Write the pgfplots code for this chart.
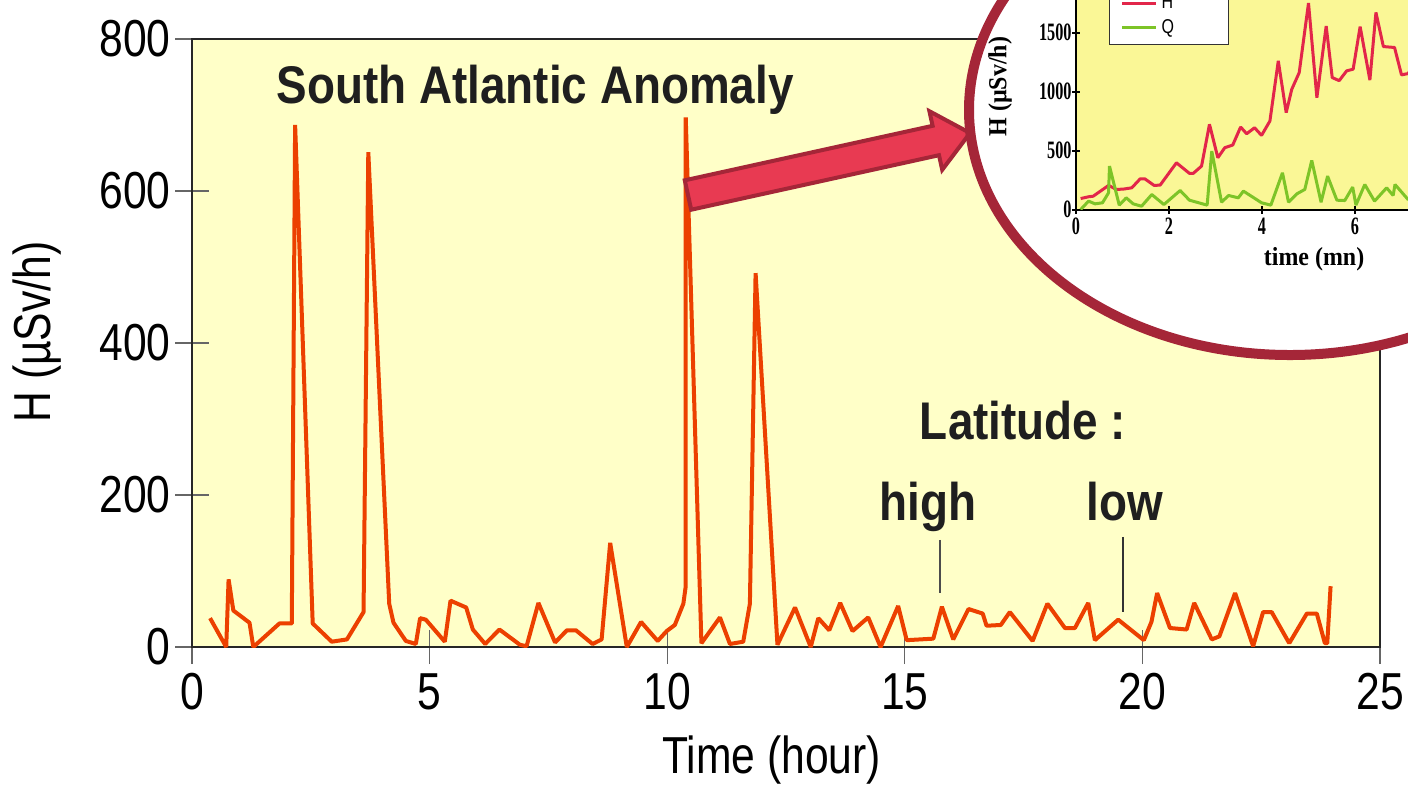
\documentclass[border=0pt]{standalone}
\usepackage{pgfplots}
\pgfplotsset{compat=1.18}
\usepackage{fontspec}
\setmainfont{Liberation Sans}
\newfontfamily\mainf[FakeStretch=0.82]{Liberation Sans}
\newfontfamily\boldf[FakeStretch=0.865]{Liberation Sans}
\newfontfamily\insetf[FakeStretch=0.65]{Liberation Serif}
\newfontfamily\insetlab[FakeStretch=0.92]{Liberation Serif}
\newfontfamily\legf[FakeStretch=0.8]{Liberation Sans}

\definecolor{mainbg}{RGB}{255,255,200}
\definecolor{insetbg}{RGB}{250,247,150}
\definecolor{lineor}{RGB}{236,64,0}
\definecolor{ring}{RGB}{165,38,56}
\definecolor{arrowfill}{RGB}{232,58,82}
\definecolor{hred}{RGB}{226,38,74}
\definecolor{qgreen}{RGB}{125,196,40}

\pgfplotstableread{
x y
0.38 38
0.72 0
0.77 89
0.87 48
1.21 32
1.29 0
1.84 31
2.10 31
2.17 687
2.54 31
2.94 7
3.26 10
3.61 46
3.71 651
4.15 57
4.24 32
4.50 8
4.71 4
4.80 38
4.92 36
5.32 7
5.44 61
5.77 52
5.91 23
6.17 4
6.47 23
6.90 3
7.04 1
7.29 58
7.64 6
7.89 22
8.08 22
8.43 4
8.62 10
8.80 137
9.15 0
9.45 33
9.80 8
9.99 21
10.16 29
10.34 57
10.39 80
10.39 697
10.72 5
11.11 39
11.32 4
11.60 7
11.74 57
11.86 492
12.32 3
12.69 52
13.02 0
13.18 38
13.41 22
13.64 58
13.90 21
14.23 39
14.49 0
14.86 54
15.04 9
15.60 11
15.78 53
16.02 10
16.34 50
16.64 44
16.72 28
17.02 29
17.21 46
17.69 8
18.00 57
18.37 25
18.58 25
18.86 58
19.00 9
19.49 36
20.03 9
20.19 33
20.31 71
20.58 25
20.93 23
21.09 58
21.46 10
21.62 14
21.95 71
22.33 1
22.54 46
22.72 46
23.09 5
23.46 44
23.67 44
23.84 5
23.89 5
23.96 80
}\maindata

\pgfplotstableread{
t v
0.10 93
0.27 108
0.37 113
0.70 204
0.87 170
1.02 173
1.20 184
1.38 260
1.48 260
1.68 204
1.81 207
2.16 396
2.44 306
2.52 306
2.70 368
2.87 722
3.05 439
3.20 524
3.37 546
3.54 699
3.67 642
3.84 693
3.99 628
4.17 750
4.35 1259
4.52 821
4.64 1019
4.80 1160
5.00 1750
5.18 948
5.38 1555
5.51 1118
5.66 1092
5.82 1175
5.96 1189
6.11 1550
6.32 1097
6.45 1670
6.61 1381
6.85 1373
7.00 1141
7.14 1152
7.40 1300
}\hdata

\pgfplotstableread{
t v
0.10 0
0.27 71
0.41 48
0.57 57
0.70 142
0.72 368
0.93 37
1.08 99
1.23 48
1.41 28
1.63 127
1.89 42
2.24 161
2.44 79
2.82 37
2.92 495
3.13 62
3.28 119
3.49 99
3.60 156
3.99 57
4.19 37
4.44 311
4.57 62
4.75 133
4.92 170
5.07 416
5.27 62
5.41 283
5.61 79
5.78 76
5.95 190
6.02 37
6.21 212
6.42 71
6.68 184
6.82 119
6.86 212
7.14 85
7.40 150
}\qdata

\begin{document}
\begin{tikzpicture}
\path[use as bounding box] (0pt,0pt) rectangle (704pt,-392pt);
\clip (0pt,0pt) rectangle (704pt,-392pt);
\begin{axis}[
  at={(96pt,-323.5pt)}, anchor=south west,
  scale only axis, width=594pt, height=304pt,
  xmin=0, xmax=25, ymin=0, ymax=800,
  xtick={0,5,10,15,20,25}, ytick={0,200,400,600,800},
  xtick pos=bottom, ytick pos=left,
  tick align=center, major tick length=17pt,
  tick style={black!60, line width=0.6pt},
  axis line style={black!85, line width=0.6pt},
  axis background/.style={fill=mainbg},
  ticklabel style={font=\mainf\fontsize{26}{30}\selectfont, inner sep=0pt},
  xticklabel style={yshift=-4.5pt},
  yticklabel style={xshift=-2pt},
  /pgf/number format/assume math mode=true,
  xlabel={Time (hour)}, ylabel={H (µSv/h)},
  label style={font=\mainf\fontsize{26}{30}\selectfont, inner sep=0pt},
  xlabel style={at={(axis description cs:0.488,-0.146)}, anchor=north},
  ylabel style={at={(axis description cs:-0.13,0.518)}, anchor=center},
]
\addplot[lineor, line width=2pt, line join=bevel] table[x=x, y=y] {\maindata};
\node[font=\boldf\bfseries\fontsize{26.5}{30}\selectfont, anchor=base, text=black!88] at (axis cs:7.22,715.8) {South Atlantic Anomaly};
\node[font=\boldf\bfseries\fontsize{26.5}{30}\selectfont, anchor=base, text=black!88] at (axis cs:17.49,272.4) {Latitude :};
\node[font=\boldf\bfseries\fontsize{26.5}{30}\selectfont, anchor=base, text=black!88] at (axis cs:15.49,167.1) {high};
\node[font=\boldf\bfseries\fontsize{26.5}{30}\selectfont, anchor=base, text=black!88] at (axis cs:19.63,167.1) {low};
\draw[black!70, line width=0.6pt] (axis cs:15.74,141) -- (axis cs:15.74,71);
\draw[black!80, line width=0.6pt] (axis cs:19.59,145) -- (axis cs:19.59,46);
\end{axis}

\filldraw[fill=arrowfill, draw=ring, line width=2pt, line join=miter]
  (345.6pt,-104.85pt) -- (469.5pt,-77.6pt) -- (471.1pt,-84.9pt) -- (485pt,-66.5pt)
  -- (464.7pt,-55.6pt) -- (466.3pt,-62.9pt) -- (342.4pt,-90.15pt) -- cycle;

\fill[white] (645pt,-55pt) ellipse [x radius=160.5pt, y radius=122.5pt];
\begin{scope}
\clip (645pt,-55pt) ellipse [x radius=158pt, y radius=120pt];
\begin{axis}[
  at={(538pt,-104.75pt)}, anchor=south west,
  scale only axis, width=186pt, height=112.1pt,
  xmin=0, xmax=8, ymin=0, ymax=1900,
  xtick={0,2,4,6}, ytick={0,500,1000,1500},
  xtick pos=bottom, ytick pos=left,
  tick align=center, major tick length=4pt,
  tick style={black, line width=1pt},
  axis line style={black, line width=1pt},
  axis background/.style={fill=insetbg},
  ticklabel style={font=\insetf\bfseries\fontsize{12.5}{14}\selectfont, inner sep=0pt},
  xticklabel style={yshift=-2pt},
  /pgf/number format/assume math mode=true,
  /pgf/number format/1000 sep={},
  xlabel={time (mn)}, ylabel={H (µSv/h)},
  label style={font=\insetlab\bfseries\fontsize{13}{15}\selectfont, inner sep=0pt},
  xlabel style={at={(axis description cs:0.64,-0.22)}, anchor=center},
  ylabel style={at={(axis description cs:-0.204,0.548)}, anchor=center},
  legend style={at={(0.089,0.734)}, anchor=south west, draw=black!80, line width=0.6pt,
    fill=white, font=\legf\fontsize{10}{12}\selectfont, inner xsep=5.5pt, inner ysep=2pt,
    row sep=0pt, column sep=0pt, cells={anchor=west}},
  legend image code/.code={\draw[#1] (0pt,0pt) -- (17pt,0pt);},
]
\addplot[hred, line width=1.5pt, line join=bevel] table[x=t, y=v] {\hdata};
\addlegendentry{\makebox[26pt][l]{H}}
\addplot[qgreen, line width=1.5pt, line join=bevel] table[x=t, y=v] {\qdata};
\addlegendentry{\makebox[26pt][l]{Q}}
\end{axis}
\end{scope}
\draw[ring, line width=5pt] (645pt,-55pt) ellipse [x radius=160.5pt, y radius=122.5pt];
\end{tikzpicture}
\end{document}
